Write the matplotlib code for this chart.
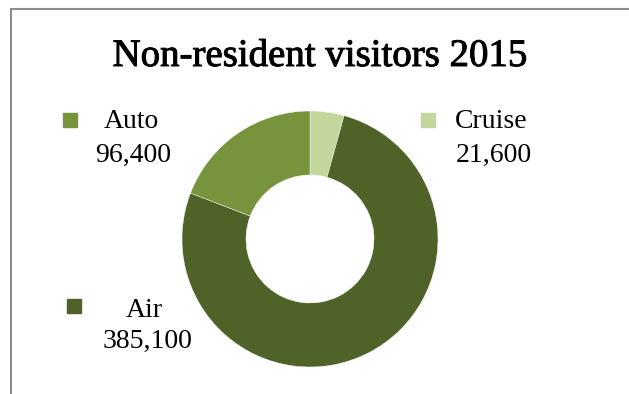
import matplotlib.pyplot as plt
import matplotlib.patheffects as pe
from matplotlib.patches import Rectangle

# Visitor counts by mode of arrival
categories = ["Cruise", "Air", "Auto"]
visitors = [21600, 385100, 96400]
colors = ["#c3d69b", "#4f6228", "#77933c"]

W, H = 629, 394
fig = plt.figure(figsize=(W / 100, H / 100), dpi=100)
serif = ["Liberation Serif", "DejaVu Serif"]


def fx(px):
    return px / W


def fy(py):
    return 1 - py / H


# chart frame (only left and top edges fall inside the image)
fig.add_artist(Rectangle((fx(10.5), fy(H + 20)), 1.2, (H + 20 - 9) / H,
                         transform=fig.transFigure, fill=False,
                         edgecolor="#8c8c8c", linewidth=1.5))

fig.text(fx(320), fy(66), "Non-resident visitors 2015", ha="center",
         va="baseline", fontsize=28, family=serif,
         path_effects=[pe.withStroke(linewidth=0.7, foreground="black")])

# donut centred at (310, 239) px with radius 128 px
cx, cy, r = 310, 239, 128
ax = fig.add_axes([fx(cx - r), fy(cy + r), 2 * r / W, 2 * r / H])
ax.pie(visitors, colors=colors, startangle=90, counterclock=False,
       wedgeprops=dict(width=0.5, edgecolor="white", linewidth=0.3))
ax.set_xlim(-1, 1)
ax.set_ylim(-1, 1)
ax.set_aspect("auto")
ax.axis("off")

# data labels with legend keys
label_pos = {
    "Auto": dict(box=(63, 113), name=(131, 128), value=(133, 162)),
    "Cruise": dict(box=(421, 113), name=(491, 128), value=(494, 162)),
    "Air": dict(box=(67, 299), name=(144, 317), value=(147, 348)),
}
for cat, val, col in zip(categories, visitors, colors):
    p = label_pos[cat]
    bx, by = p["box"]
    fig.add_artist(Rectangle((fx(bx), fy(by + 14)), 14 / W, 14 / H,
                             transform=fig.transFigure, color=col))
    fig.text(fx(p["name"][0]), fy(p["name"][1]), cat, ha="center",
             va="baseline", fontsize=20, family=serif)
    fig.text(fx(p["value"][0]), fy(p["value"][1]), f"{val:,}", ha="center",
             va="baseline", fontsize=20, family=serif)

fig.savefig("out.png", dpi=100)
